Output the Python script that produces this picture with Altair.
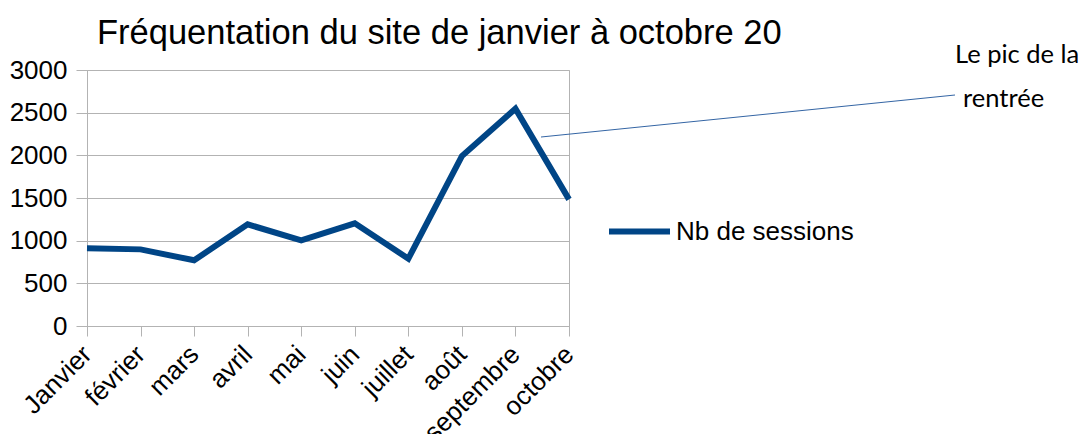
import altair as alt
import pandas as pd

# ---- data ----
mois = ["Janvier", "février", "mars", "avril", "mai", "juin",
        "juillet", "août", "septembre", "octobre"]
sessions = [910, 898, 770, 1191, 1004, 1203, 789, 1992, 2547, 1484]
serie = "Nb de sessions"
titre = "Fréquentation du site de janvier à octobre 20"
annotation_lignes = ["Le pic de la", "rentrée"]
y_ticks = [0, 500, 1000, 1500, 2000, 2500, 3000]

df = pd.DataFrame({"mois": mois, "sessions": sessions, "serie": [serie] * len(mois)})
ann = pd.DataFrame({"l1": [annotation_lignes[0]], "l2": [annotation_lignes[1]]})

GRID = "#b3b3b3"
BLUE = "#004586"
FONT = "Liberation Sans"

line = alt.Chart(df).mark_line(strokeWidth=6, strokeJoin="miter", strokeCap="butt").encode(
    x=alt.X("mois:N", sort=mois, scale=alt.Scale(type="point", padding=0),
            axis=alt.Axis(title=None, labelAngle=-45, labelAlign="right", labelBaseline="middle",
                          labelFontSize=26, labelFont=FONT, labelColor="black", labelPadding=14,
                          tickSize=10, tickColor=GRID, domainColor=GRID, grid=False,
                          labelOverlap=False)),
    y=alt.Y("sessions:Q", scale=alt.Scale(domain=[0, 3000]),
            axis=alt.Axis(title=None, values=y_ticks, format="d", labelFontSize=26, labelFont=FONT,
                          labelColor="black", labelPadding=9, tickSize=11, tickColor=GRID,
                          domainColor=GRID, gridColor=GRID, grid=True)),
    color=alt.Color("serie:N", scale=alt.Scale(range=[BLUE]),
                    legend=alt.Legend(title=None, orient="none", legendX=519, legendY=128,
                                      symbolType="stroke", symbolSize=3721, symbolStrokeWidth=6,
                                      labelFontSize=26, labelFont=FONT, labelColor="black",
                                      labelOffset=3, labelLimit=400, padding=0)),
)

rule = alt.Chart(ann).mark_rule(color="#3465a4", strokeWidth=1).encode(
    x=alt.value(454), y=alt.value(67), x2=alt.value(868), y2=alt.value(25)
)
t1 = alt.Chart(ann).mark_text(align="left", baseline="alphabetic", fontSize=25.5, font="Lato",
                              color="black").encode(
    x=alt.value(868), y=alt.value(-7), text="l1:N")
t2 = alt.Chart(ann).mark_text(align="left", baseline="alphabetic", fontSize=25.5, font="Lato",
                              color="black").encode(
    x=alt.value(876), y=alt.value(37), text="l2:N")

chart = alt.layer(line, rule, t1, t2).properties(
    width=482, height=256,
    title=alt.TitleParams(titre, anchor="start", frame="group", dx=10, dy=16, fontSize=34.5,
                          font=FONT, fontWeight="normal", color="black", offset=8),
    autosize=alt.AutoSizeParams(type="none"),
    padding={"left": 79, "top": 62, "right": 512, "bottom": 108},
).configure_view(stroke=GRID)

chart.save("out.html", embed_options={"renderer": "svg", "actions": False})
